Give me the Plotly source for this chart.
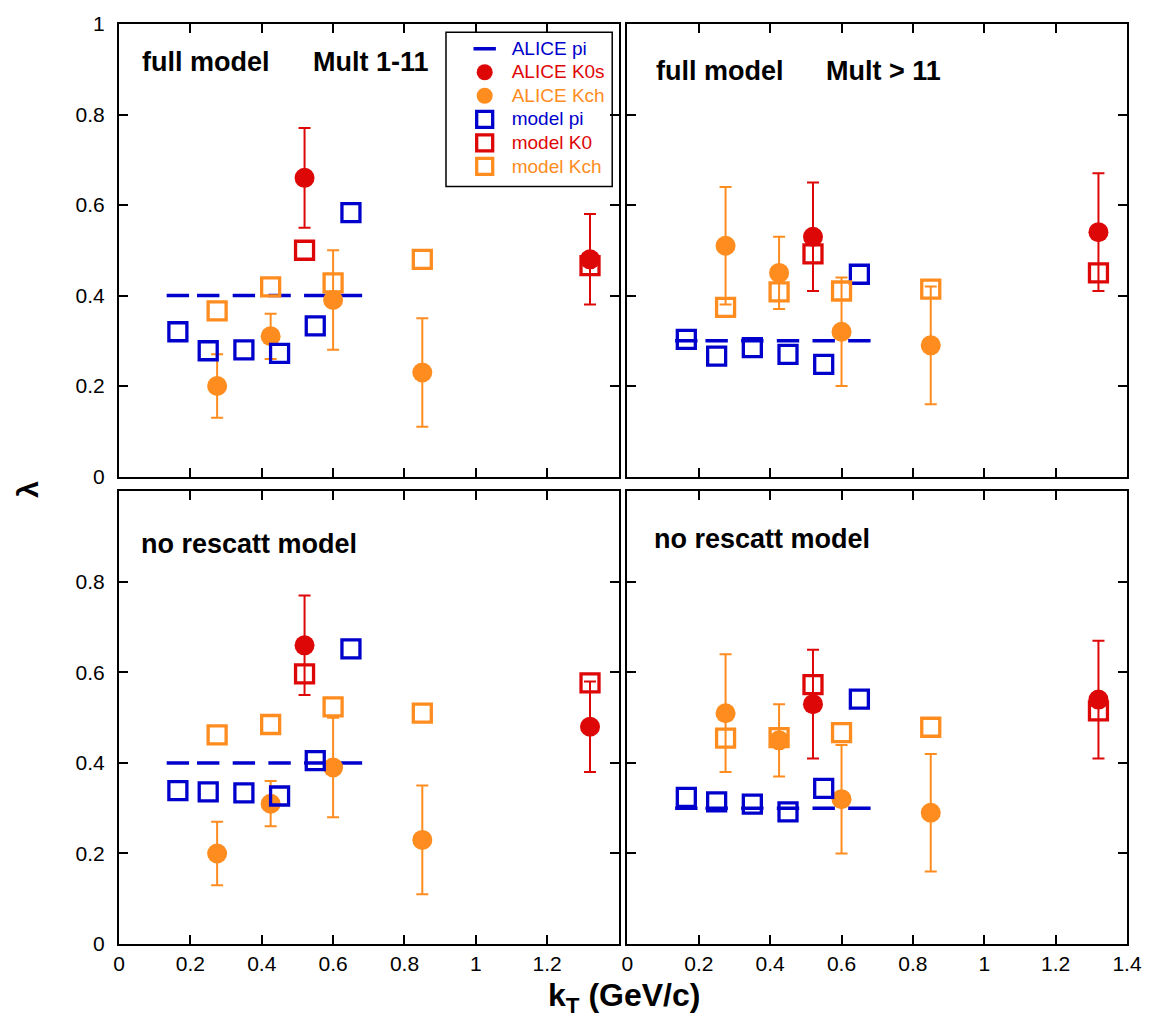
import plotly.graph_objects as go
from plotly.subplots import make_subplots

# kT bin centres (GeV/c)
kt_pi = [0.165, 0.25, 0.35, 0.45, 0.55, 0.65]
kt_kch = [0.275, 0.425, 0.60, 0.85]
kt_k0 = [0.52, 1.32]

# ALICE lambda, multiplicity 1-11
alice_pi_low = [0.40, 0.40, 0.40, 0.40, 0.40, 0.40]
alice_k0s_low = [0.66, 0.48]
alice_k0s_low_err = [0.11, 0.10]
alice_kch_low = [0.20, 0.31, 0.39, 0.23]
alice_kch_low_err = [0.07, 0.05, 0.11, 0.12]

# ALICE lambda, multiplicity > 11
alice_pi_high = [0.30, 0.30, 0.30, 0.30, 0.30, 0.30]
alice_k0s_high = [0.53, 0.54]
alice_k0s_high_err = [0.12, 0.13]
alice_kch_high = [0.51, 0.45, 0.32, 0.29]
alice_kch_high_err = [0.13, 0.08, 0.12, 0.13]

# full model
full_pi_low = [0.320, 0.278, 0.280, 0.272, 0.333, 0.583]
full_k0_low = [0.500, 0.466]
full_kch_low = [0.366, 0.419, 0.428, 0.480]
full_pi_high = [0.303, 0.266, 0.285, 0.270, 0.248, 0.447]
full_k0_high = [0.492, 0.450]
full_kch_high = [0.374, 0.408, 0.410, 0.414]

# model without rescattering
norescatt_pi_low = [0.339, 0.336, 0.334, 0.327, 0.405, 0.652]
norescatt_k0_low = [0.597, 0.577]
norescatt_kch_low = [0.462, 0.485, 0.524, 0.510]
norescatt_pi_high = [0.324, 0.314, 0.309, 0.292, 0.344, 0.541]
norescatt_k0_high = [0.573, 0.515]
norescatt_kch_high = [0.455, 0.456, 0.467, 0.479]

x_tickvals = [0, 0.2, 0.4, 0.6, 0.8, 1.0, 1.2, 1.4]
x_ticktext_left = ["0", "0.2", "0.4", "0.6", "0.8", "1", "1.2", ""]
x_ticktext_right = ["0", "0.2", "0.4", "0.6", "0.8", "1", "1.2", "1.4"]
y_tickvals = [0, 0.2, 0.4, 0.6, 0.8, 1.0]
y_ticktext_top = ["0", "0.2", "0.4", "0.6", "0.8", "1"]
y_ticktext_bottom = ["0", "0.2", "0.4", "0.6", "0.8", ""]

BLUE = "#0000CC"
RED = "#DE0707"
ORANGE = "#FF8C1E"
FONT = "Liberation Sans, Arial, sans-serif"

fig = make_subplots(rows=2, cols=2)

panels = [
    dict(row=1, col=1, alice=(alice_pi_low, alice_k0s_low, alice_k0s_low_err, alice_kch_low, alice_kch_low_err),
         model=(full_pi_low, full_k0_low, full_kch_low), legend=True),
    dict(row=1, col=2, alice=(alice_pi_high, alice_k0s_high, alice_k0s_high_err, alice_kch_high, alice_kch_high_err),
         model=(full_pi_high, full_k0_high, full_kch_high), legend=False),
    dict(row=2, col=1, alice=(alice_pi_low, alice_k0s_low, alice_k0s_low_err, alice_kch_low, alice_kch_low_err),
         model=(norescatt_pi_low, norescatt_k0_low, norescatt_kch_low), legend=False),
    dict(row=2, col=2, alice=(alice_pi_high, alice_k0s_high, alice_k0s_high_err, alice_kch_high, alice_kch_high_err),
         model=(norescatt_pi_high, norescatt_k0_high, norescatt_kch_high), legend=False),
]


def lname(text, color):
    # legend entries are coloured like their series, drawn a little larger than the row pitch font
    return f'<span style="color:{color};font-size:19px">{text}</span>'


for p in panels:
    a_pi, a_k0, a_k0_err, a_kch, a_kch_err = p["alice"]
    m_pi, m_k0, m_kch = p["model"]
    r, c, sl = p["row"], p["col"], p["legend"]
    err = dict(type="data", visible=True, thickness=2, width=6)
    fig.add_trace(go.Scatter(
        x=kt_pi, y=a_pi, mode="markers", name=lname("ALICE pi", BLUE), showlegend=sl,
        marker=dict(symbol="line-ew", size=16, color=BLUE, line=dict(color=BLUE, width=3.5))), row=r, col=c)
    fig.add_trace(go.Scatter(
        x=kt_k0, y=a_k0, mode="markers", name=lname("ALICE K0s", RED), showlegend=sl,
        error_y=dict(array=a_k0_err, color=RED, **err),
        marker=dict(symbol="circle", size=20, color=RED)), row=r, col=c)
    fig.add_trace(go.Scatter(
        x=kt_kch, y=a_kch, mode="markers", name=lname("ALICE Kch", ORANGE), showlegend=sl,
        error_y=dict(array=a_kch_err, color=ORANGE, **err),
        marker=dict(symbol="circle", size=20, color=ORANGE)), row=r, col=c)
    fig.add_trace(go.Scatter(
        x=kt_pi, y=m_pi, mode="markers", name=lname("model pi", BLUE), showlegend=sl,
        marker=dict(symbol="square-open", size=18, color=BLUE, line=dict(color=BLUE, width=3.3))), row=r, col=c)
    fig.add_trace(go.Scatter(
        x=kt_k0, y=m_k0, mode="markers", name=lname("model K0", RED), showlegend=sl,
        marker=dict(symbol="square-open", size=18, color=RED, line=dict(color=RED, width=3.3))), row=r, col=c)
    fig.add_trace(go.Scatter(
        x=kt_kch, y=m_kch, mode="markers", name=lname("model Kch", ORANGE), showlegend=sl,
        marker=dict(symbol="square-open", size=18, color=ORANGE, line=dict(color=ORANGE, width=3.3))), row=r, col=c)

axis_common = dict(
    showline=True, linecolor="black", linewidth=2, mirror="ticks",
    ticks="inside", ticklen=9, tickwidth=2, tickcolor="black",
    showgrid=False, zeroline=False,
    tickfont=dict(family=FONT, size=21, color="black"),
)

fig.update_layout(
    xaxis=dict(domain=[0, 0.4956], range=[0, 1.4], tickvals=x_tickvals, showticklabels=False, **axis_common),
    xaxis2=dict(domain=[0.5044, 1], range=[0, 1.4], tickvals=x_tickvals, showticklabels=False, **axis_common),
    xaxis3=dict(domain=[0, 0.4956], range=[0, 1.4], tickvals=x_tickvals, ticktext=x_ticktext_left,
                ticklabelstandoff=0, **axis_common),
    xaxis4=dict(domain=[0.5044, 1], range=[0, 1.4], tickvals=x_tickvals, ticktext=x_ticktext_right,
                ticklabelstandoff=0, **axis_common),
    yaxis=dict(domain=[0.5081, 1], range=[0, 1], tickvals=y_tickvals, ticktext=y_ticktext_top,
               ticklabelstandoff=8, **axis_common),
    yaxis2=dict(domain=[0.5081, 1], range=[0, 1], tickvals=y_tickvals, showticklabels=False, **axis_common),
    yaxis3=dict(domain=[0, 0.4919], range=[0, 1], tickvals=y_tickvals, ticktext=y_ticktext_bottom,
                ticklabelstandoff=8, **axis_common),
    yaxis4=dict(domain=[0, 0.4919], range=[0, 1], tickvals=y_tickvals, showticklabels=False, **axis_common),
)

label_font = dict(family=FONT, size=27, color="black")
panel_labels = [
    ("x", "y", 0.043, 0.916, "<b>full model</b>"),
    ("x", "y", 0.385, 0.916, "<b>Mult 1-11</b>"),
    ("x2", "y2", 0.054, 0.896, "<b>full model</b>"),
    ("x2", "y2", 0.394, 0.896, "<b>Mult &gt; 11</b>"),
    ("x3", "y3", 0.040, 0.883, "<b>no rescatt model</b>"),
    ("x4", "y4", 0.050, 0.896, "<b>no rescatt model</b>"),
]
annotations = []
for xr, yr, xv, yv, txt in panel_labels:
    annotations.append(dict(xref=f"{xr} domain", yref=f"{yr} domain", x=xv, y=yv, text=txt,
                            showarrow=False, xanchor="left", yanchor="middle", font=label_font))

# axis titles
annotations.append(dict(xref="paper", yref="paper", x=-0.0906, y=0.4946, text="<b>λ</b>",
                        showarrow=False, textangle=-90, xanchor="center", yanchor="middle",
                        font=dict(family=FONT, size=30, color="black")))
annotations.append(dict(xref="paper", yref="paper", x=0.5005, y=-0.0335, text="<b>k<sub>T</sub> (GeV/c)</b>",
                        showarrow=False, xanchor="center", yanchor="top",
                        font=dict(family=FONT, size=32, color="black")))

fig.update_layout(
    width=1154, height=1017,
    margin=dict(l=119, r=20, t=21, b=73),
    paper_bgcolor="white", plot_bgcolor="white",
    annotations=annotations,
    showlegend=True,
    legend=dict(x=0.3360, y=0.9914, xanchor="left", yanchor="top", xref="paper", yref="paper",
                bgcolor="rgba(0,0,0,0)", borderwidth=0, itemwidth=44,
                font=dict(family=FONT, size=15.8), tracegroupgap=0),
    shapes=[dict(type="rect", xref="paper", yref="paper", x0=0.3244, x1=0.4893, y0=0.8234, y1=0.9910,
                 line=dict(color="black", width=1.5), fillcolor="white", layer="below")],
)

fig.write_html("out.html")
